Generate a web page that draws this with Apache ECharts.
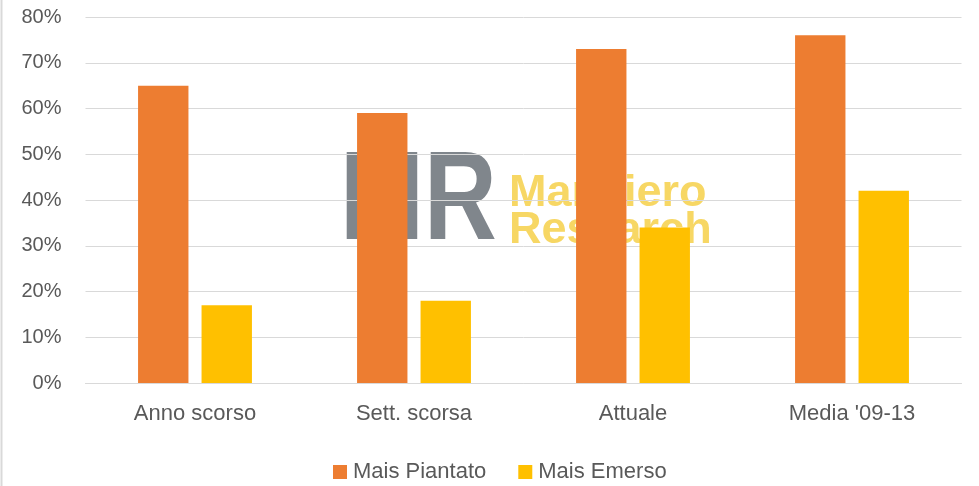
<!DOCTYPE html>
<html>
<head>
<meta charset="utf-8">
<style>
  html, body { margin: 0; padding: 0; background: #fff; }
  #chart { width: 979px; height: 486px; }
</style>
<script src="https://cdn.jsdelivr.net/npm/echarts@6/dist/echarts.min.js"></script>
</head>
<body>
<div id="chart"></div>
<script>
const categories = ['Anno scorso', 'Sett. scorsa', 'Attuale', "Media '09-13"];
const piantato = [65, 59, 73, 76];
const emerso = [17, 18, 34, 42];
const yTicks = [0, 10, 20, 30, 40, 50, 60, 70, 80];

const textColor = '#595959';
const fontFamily = 'Liberation Sans, Arial, sans-serif';

const dom = document.getElementById('chart');
const myChart = echarts.init(dom);

var option = {
  animation: false,
  textStyle: { fontFamily: fontFamily },
  grid: { left: 85.5, right: 17.5, top: 17, bottom: 103, containLabel: false },
  legend: {
    left: 328,
    top: 456,
    itemWidth: 14,
    itemHeight: 14,
    itemGap: 32,
    icon: 'rect',
    textStyle: { color: textColor, fontSize: 22, padding: [0, 0, 0, 1] },
    data: ['Mais Piantato', 'Mais Emerso']
  },
  xAxis: {
    type: 'category',
    data: categories,
    axisTick: { show: false },
    axisLine: { lineStyle: { color: '#D9D9D9', width: 1 } },
    axisLabel: { color: textColor, fontSize: 22, margin: 20 }
  },
  yAxis: {
    type: 'value',
    min: yTicks[0],
    max: yTicks[yTicks.length - 1],
    interval: 10,
    axisLine: { show: false },
    axisTick: { show: false },
    splitLine: { lineStyle: { color: '#D9D9D9', width: 1 } },
    axisLabel: { color: textColor, fontSize: 20, margin: 24, formatter: '{value}%' }
  },
  graphic: [
    {
      type: 'line', z: -10,
      shape: { x1: 1.5, y1: 0, x2: 1.5, y2: 486 },
      style: { stroke: '#D9D9D9', lineWidth: 2 }
    },
    {
      type: 'text', z: -10, x: 340, y: 204, scaleX: 0.8,
      style: { text: 'MR', fill: '#80868C', font: 'bold 126px "Liberation Sans", Arial, sans-serif', verticalAlign: 'middle' }
    },
    {
      type: 'text', z: -10, x: 509, y: 194,
      style: { text: 'Mansiero', fill: '#F7D764', font: 'bold 45px "Liberation Sans", Arial, sans-serif', verticalAlign: 'middle' }
    },
    {
      type: 'text', z: -10, x: 509, y: 231,
      style: { text: 'Research', fill: '#F7D764', font: 'bold 45px "Liberation Sans", Arial, sans-serif', verticalAlign: 'middle' }
    }
  ],
  series: [
    {
      name: 'Mais Piantato',
      type: 'bar',
      data: piantato,
      barGap: '26%',
      barCategoryGap: '48%',
      itemStyle: { color: '#ED7D31' }
    },
    {
      name: 'Mais Emerso',
      type: 'bar',
      data: emerso,
      itemStyle: { color: '#FFC000' }
    }
  ]
};

myChart.setOption(option);
</script>
</body>
</html>
